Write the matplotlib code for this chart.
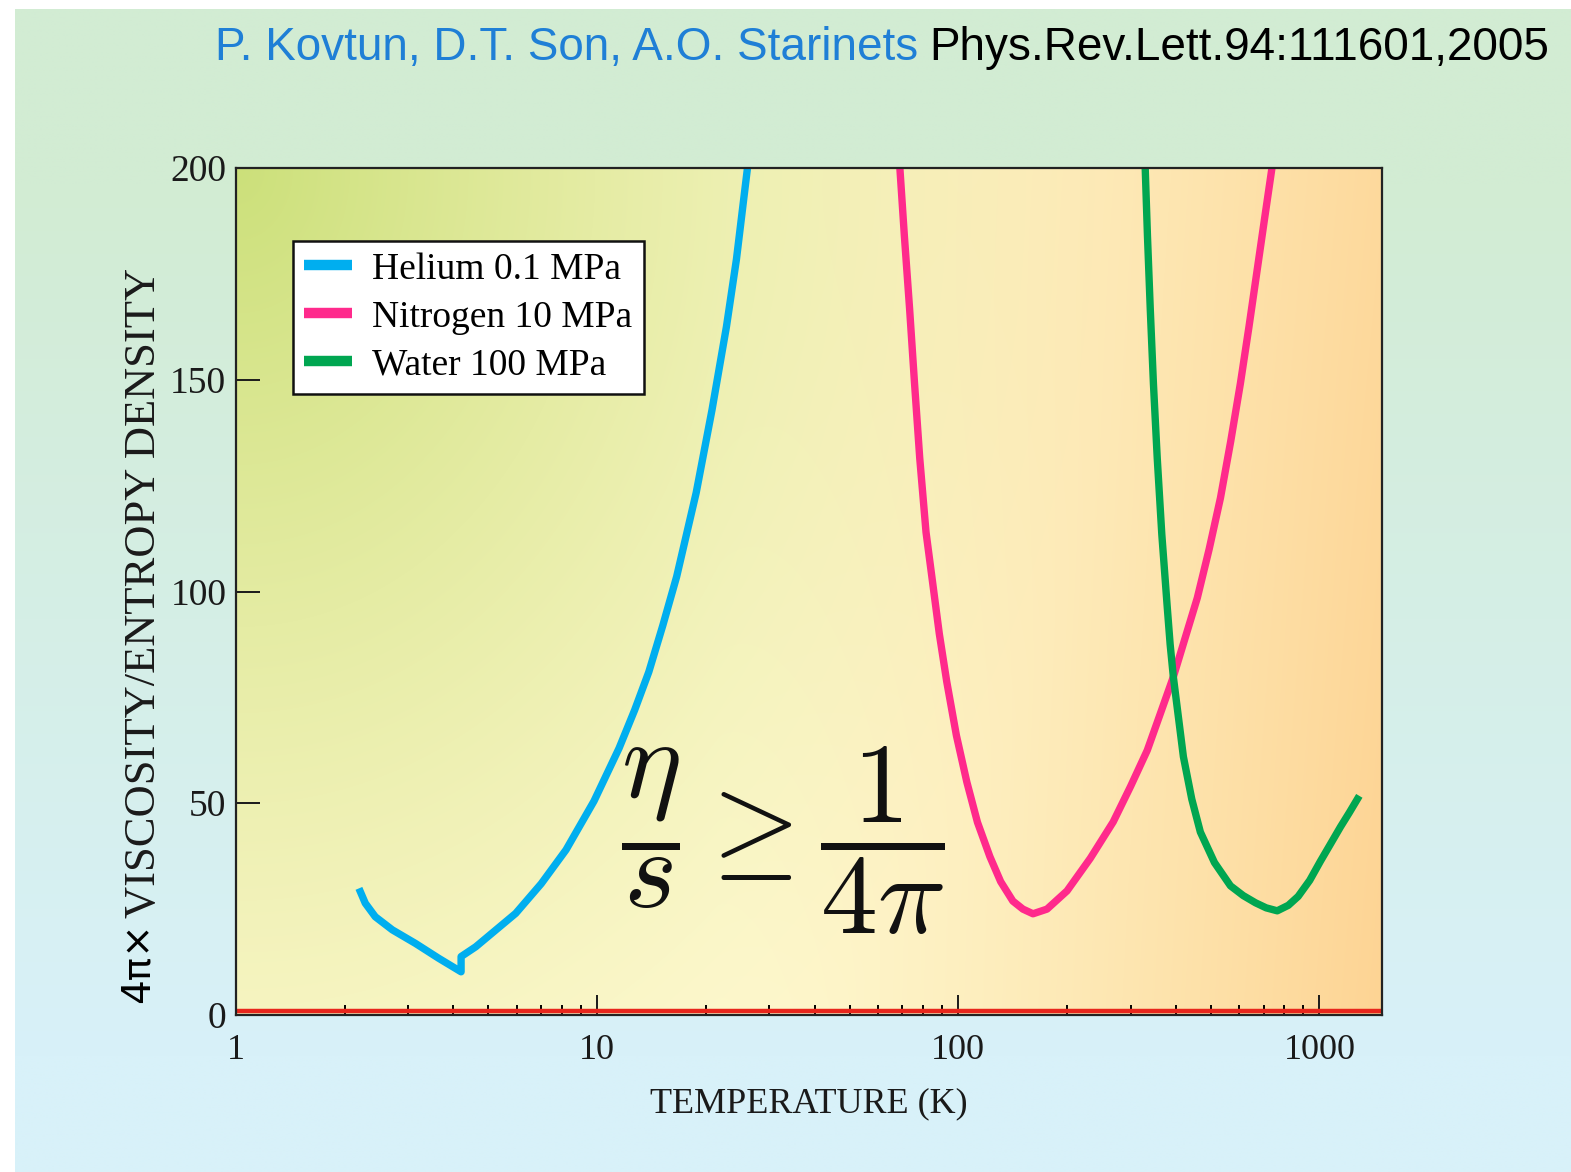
import numpy as np
import matplotlib
matplotlib.use("Agg")
import matplotlib.pyplot as plt
from matplotlib import font_manager
from matplotlib.ticker import FixedLocator, NullFormatter, FixedFormatter

# ---------------- data ----------------
helium_T = [2.21, 2.28, 2.43, 2.71, 3.14, 3.64, 4.2, 4.2, 4.61, 5.95, 7.0, 8.2, 9.8,
            11.5, 12.7, 13.9, 15.2, 16.6, 18.8, 20.8, 22.8, 24.3, 26.1]
helium_v = [29.1, 26.4, 23.2, 20.1, 16.9, 13.4, 10.2, 13.8, 16.1, 24.0, 31.0, 39.0, 50.5,
            63.0, 72.0, 81.0, 92.0, 103.5, 123.3, 142.9, 162.5, 178.4, 200.3]

nitrogen_T = [68.8, 70.9, 73.3, 75.6, 78.2, 81.4, 84.9, 88.6, 92.9, 98.8, 105.6, 113,
              122.3, 131, 141.6, 151, 161, 176, 200, 232, 268.5, 300, 333.6, 362,
              393.8, 459, 495, 532, 568, 604, 638, 673, 706, 741]
nitrogen_v = [200.8, 184.0, 166.8, 149.5, 131.5, 114.0, 102.1, 90.0, 78.7, 66.0, 55.0, 45.5,
              37.4, 31.5, 26.9, 25.0, 23.9, 25.0, 29.3, 37.0, 45.6, 54.0, 62.5, 71.0,
              79.8, 98.5, 110.0, 122.1, 135.5, 149.1, 162.5, 176.2, 188.5, 200.8]

water_T = [329, 334, 340, 347, 355.5, 366, 379, 386, 394, 420, 443, 468, 512, 567,
           615, 665, 712, 764, 820, 873, 940, 1006, 1075, 1143, 1210, 1274]
water_v = [200.8, 184.0, 166.8, 149.0, 131.5, 113.5, 96.2, 87.5, 79.8, 61.0, 51.0, 43.2,
           36.0, 30.5, 28.2, 26.5, 25.3, 24.6, 25.9, 28.0, 31.8, 36.3, 40.5, 44.4,
           47.8, 51.0]

bound_value = 1.0            # 4*pi*eta/s = 1  (KSS bound)

labels = ["Helium 0.1 MPa", "Nitrogen 10 MPa", "Water 100 MPa"]
colors = ["#00aeef", "#ff2a8c", "#00a651"]

xticks_major = [1, 10, 100, 1000]
xtick_labels = ["1", "10", "100", "1000"]
yticks = [0, 50, 100, 150, 200]
ytick_labels = ["0", "50", "100", "150", "200"]

title_authors = "P. Kovtun, D.T. Son, A.O. Starinets"
title_ref = "Phys.Rev.Lett.94:111601,2005"

# ---------------- figure ----------------
W, H = 1571, 1172
fig = plt.figure(figsize=(W / 100, H / 100), dpi=100)
fig.patch.set_facecolor("white")

names = {f.name for f in font_manager.fontManager.ttflist}
narrow = "Liberation Sans Narrow" in names
serif = "Liberation Serif"

# figure background gradient (green at top -> light blue at bottom)
bg_ax = fig.add_axes([15 / W, 0, 1 - 15 / W, 1 - 9 / H])
bg_ax.set_axis_off()
top_c = np.array([210, 236, 211]) / 255
bot_c = np.array([216, 241, 249]) / 255
t = np.linspace(0, 1, 256)[:, None]
t = np.clip((t - 0.15) / 0.75, 0, 1)
grad = top_c[None, :] * (1 - t) + bot_c[None, :] * t
bg_ax.imshow(grad[:, None, :].repeat(4, axis=1), aspect="auto",
             extent=[0, 1, 0, 1], origin="upper", interpolation="bilinear")

# main axes
left, right = 236 / W, 1382 / W
bottom, top = 1 - 1015 / H, 1 - 168 / H
ax = fig.add_axes([left, bottom, right - left, top - bottom])
ax.set_xscale("log")
ax.set_xlim(1, 1490)
ax.set_ylim(0, 200)

# axes background gradient
nu, nv = 400, 300
u = np.linspace(0, 1, nu)[None, :]
v = np.linspace(1, 0, nv)[:, None]
green = np.array([204, 224, 122]) / 255
cream = np.array([254, 248, 206]) / 255
orange = np.array([253, 212, 148]) / 255
d = np.sqrt((u / 0.78) ** 2 + ((1 - v) / 1.35) ** 2)
wg = np.clip(1 - d, 0, 1) ** 1.35
wo = np.clip((u - 0.42) / 0.58, 0, 1) ** 1.4 * (0.85 + 0.15 * (1 - v))
wc = np.clip(1 - wg - wo, 0, 1)
img = (wc[..., None] * cream + wg[..., None] * green + wo[..., None] * orange)
img = np.clip(img, 0, 1)
ax.imshow(img, extent=[0, 1, 0, 1], transform=ax.transAxes, aspect="auto",
          origin="upper", zorder=0, interpolation="bilinear")

# curves
lw = 5.3
ax.plot(helium_T, helium_v, color=colors[0], lw=lw, label=labels[0], zorder=3,
        solid_joinstyle="round")
ax.plot(nitrogen_T, nitrogen_v, color=colors[1], lw=lw, label=labels[1], zorder=3,
        solid_joinstyle="round")
ax.plot(water_T, water_v, color=colors[2], lw=lw, label=labels[2], zorder=3,
        solid_joinstyle="round")
ax.axhline(bound_value, color="#e8261c", lw=3.2, zorder=2)

# spines and ticks
for s in ax.spines.values():
    s.set_linewidth(1.6)
    s.set_color("#222222")
    s.set_zorder(4)

ax.xaxis.set_major_locator(FixedLocator(xticks_major))
ax.xaxis.set_major_formatter(FixedFormatter(xtick_labels))
minor = [m * 10 ** e for e in range(0, 4) for m in range(2, 10) if m * 10 ** e < 1490]
ax.xaxis.set_minor_locator(FixedLocator(minor))
ax.xaxis.set_minor_formatter(NullFormatter())
ax.yaxis.set_major_locator(FixedLocator(yticks))
ax.yaxis.set_major_formatter(FixedFormatter(ytick_labels))

ax.tick_params(axis="x", which="major", direction="in", length=14.4, width=1.4,
               pad=14, labelsize=26, colors="#1a1a1a", top=False)
ax.tick_params(axis="x", which="minor", direction="in", length=7.2, width=1.4,
               top=False)
ax.tick_params(axis="y", which="major", direction="in", length=17, width=1.4,
               pad=7, labelsize=27, colors="#1a1a1a", right=False)
for lab in ax.get_xticklabels() + ax.get_yticklabels():
    lab.set_fontfamily(serif)

ax.set_xlabel("TEMPERATURE (K)", fontsize=26, family=serif, color="#1a1a1a",
              labelpad=14)

# legend
leg = ax.legend(loc="upper left", bbox_to_anchor=(0.0497, 0.914), borderaxespad=0,
                prop={"family": serif, "size": 27}, frameon=True, fancybox=False,
                framealpha=1, facecolor="white", edgecolor="#111111",
                handlelength=1.27, handletextpad=0.55, borderpad=0.3,
                labelspacing=0.36)
leg.get_frame().set_linewidth(1.8)
leg.set_zorder(5)
for h in leg.get_lines():
    h.set_linewidth(7.5)
    h.set_solid_capstyle("butt")

# formula
plt.rcParams["mathtext.fontset"] = "cm"
ax.text(32.6, 41.2, r"$\dfrac{\eta}{s}\geq\dfrac{1}{4\pi}$", fontsize=82,
        ha="center", va="center", color="#111111", zorder=4)

# title
fig.canvas.draw()
renderer = fig.canvas.get_renderer()
tfam = ["Liberation Sans Narrow", "Liberation Sans"] if narrow else ["Liberation Sans"]
tsize = 40 if narrow else 33
t1 = fig.text(215 / W, 1 - 60 / H, title_authors, color="#1f7fd6", fontsize=tsize,
              family=tfam, ha="left", va="baseline")
bb = t1.get_window_extent(renderer)
gap = 0.25 * tsize * 100 / 72
fig.text((bb.x1 + gap) / W, 1 - 60 / H, title_ref, color="black", fontsize=tsize,
         family=tfam, ha="left", va="baseline")

# y label: "4π×" (sans) + "VISCOSITY/ENTROPY DENSITY" (serif)
y1 = fig.text(138 / W, 1 - 1003 / H, "4π×", rotation=90, fontsize=28,
              family="DejaVu Sans", ha="center", va="bottom", color="black")
bb = y1.get_window_extent(renderer)
fig.text(144 / W, (bb.y1 + 4) / H, "VISCOSITY/ENTROPY DENSITY", rotation=90,
         fontsize=32, family=serif, ha="center", va="bottom", color="#1a1a1a")

fig.savefig("out.png", dpi=100, facecolor=fig.get_facecolor())
